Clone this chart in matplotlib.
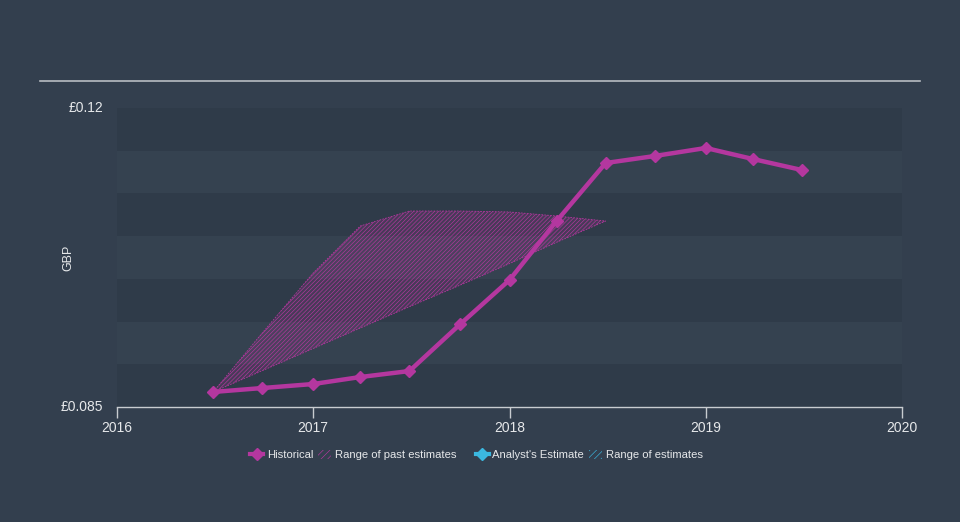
import numpy as np
import matplotlib
matplotlib.use("Agg")
import matplotlib.pyplot as plt
from matplotlib.lines import Line2D
from matplotlib.patches import Patch

plt.rcParams['font.family'] = ['Liberation Sans', 'DejaVu Sans']
plt.rcParams['hatch.linewidth'] = 0.45

# ---- data ----
hist_x = [2016.49, 2016.74, 2017.0, 2017.24, 2017.49, 2017.75, 2018.0,
          2018.24, 2018.49, 2018.74, 2019.0, 2019.24, 2019.49]
hist_y = [0.08676, 0.08722, 0.08769, 0.08851, 0.08921, 0.09472, 0.09987,
          0.10677, 0.11356, 0.11438, 0.11532, 0.11403, 0.11274]

range_x = [2016.49, 2016.74, 2017.0, 2017.24, 2017.49, 2017.75, 2018.0,
           2018.24, 2018.49]
range_hi = [0.08676, 0.09366, 0.10069, 0.10619, 0.10794, 0.10794, 0.10783,
            0.10736, 0.10677]
range_lo = [0.08676, 0.08925, 0.09185, 0.09425, 0.09674, 0.09928, 0.10179,
            0.10428, 0.10677]

x_ticks = [2016, 2017, 2018, 2019, 2020]
y_ticks = [0.085, 0.12]
y_tick_labels = ["£0.085", "£0.12"]

# ---- style ----
BG = '#333f4e'
DARK = '#2f3b49'
LIGHT = '#354250'
PINK = '#b4379f'
BLUE = '#3bb8e0'
TXT = '#e6e8ea'
AX = '#c8ccd0'

fig = plt.figure(figsize=(9.6, 5.22), dpi=100, facecolor=BG)
ax = fig.add_axes([117/960, 1-407/522, (902-117)/960, (407-108)/522])
ax.set_facecolor(BG)
ax.set_xlim(2016, 2020)
ax.set_ylim(0.085, 0.12)

# stripes
edges = np.linspace(0.085, 0.12, 8)
for i in range(7):
    ax.axhspan(edges[i], edges[i+1], color=DARK if i % 2 == 0 else LIGHT,
               lw=0, zorder=0)

# top rule
fig.add_artist(Line2D([40/960, 920/960], [1-81/522, 1-81/522],
                      color='#b8bcc2', lw=1.2))

# range of past estimates
px = list(range_x) + list(range_x[::-1])
py = list(range_hi) + list(range_lo[::-1])
ax.fill(px, py, facecolor=(0.71, 0.22, 0.62, 0.18), edgecolor=PINK,
        hatch='////////', lw=0.6, ls=(0, (2, 1.5)), zorder=2)

# historical
ax.plot(hist_x, hist_y, color=PINK, lw=3.2, marker='D', ms=6.5,
        markeredgecolor=PINK, zorder=3, solid_joinstyle='round')

# axes
for s in ['left', 'right', 'top']:
    ax.spines[s].set_visible(False)
ax.spines['bottom'].set_color(AX)
ax.spines['bottom'].set_linewidth(1)
ax.set_xticks(x_ticks)
ax.set_xticklabels([str(t) for t in x_ticks])
ax.tick_params(axis='x', colors=AX, length=8, width=1, labelcolor=TXT,
               labelsize=10, pad=2)
ax.set_yticks(y_ticks)
ax.set_yticklabels(y_tick_labels)
ax.tick_params(axis='y', length=0, labelcolor=TXT, labelsize=10, pad=10)
for lbl in ax.get_yticklabels():
    lbl.set_verticalalignment('center')
ax.set_ylabel('GBP', color=TXT, fontsize=9)
ax.yaxis.set_label_coords(-0.054, 0.5)

# legends
h1 = [Line2D([], [], color=PINK, lw=3, marker='D', ms=6),
      Patch(facecolor='none', edgecolor=PINK, hatch='/////', lw=0)]
fig.legend(h1, ['Historical', 'Range of past estimates'],
           loc='center', bbox_to_anchor=(353/960, 1-455/522), ncol=2,
           frameon=False, fontsize=8.1, labelcolor=TXT, handlelength=1.2,
           handletextpad=0.3, columnspacing=0.4, handleheight=0.8)
h2 = [Line2D([], [], color=BLUE, lw=3, marker='D', ms=6),
      Patch(facecolor='none', edgecolor=BLUE, hatch='/////', lw=0)]
fig.legend(h2, ["Analyst's Estimate", 'Range of estimates'],
           loc='center', bbox_to_anchor=(589/960, 1-455/522), ncol=2,
           frameon=False, fontsize=8.1, labelcolor=TXT, handlelength=1.2,
           handletextpad=0.3, columnspacing=0.4, handleheight=0.8)

fig.savefig('out.png', dpi=100, facecolor=BG)
